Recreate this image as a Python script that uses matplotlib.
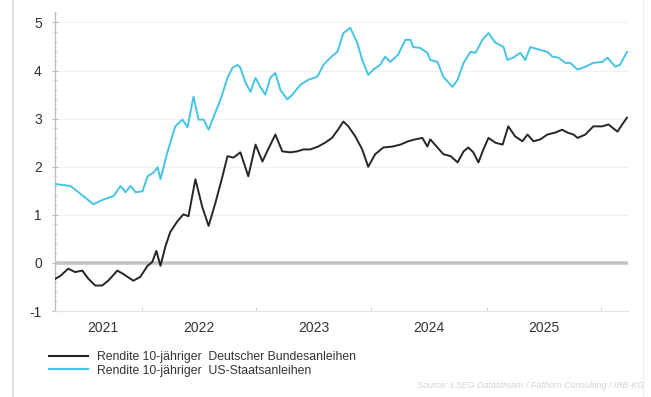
import matplotlib
matplotlib.use("Agg")
import matplotlib.pyplot as plt
import matplotlib.dates as mdates
from matplotlib.lines import Line2D
import numpy as np
import pandas as pd

# ---------------- data ----------------
us_dates = ["2021-04-02", "2021-05-20", "2021-06-30", "2021-08-01", "2021-09-02", "2021-10-04",
            "2021-10-26", "2021-11-11", "2021-11-27", "2021-12-13", "2022-01-04", "2022-01-20",
            "2022-02-08", "2022-02-21", "2022-03-02", "2022-03-24", "2022-04-18", "2022-05-11",
            "2022-05-27", "2022-06-15", "2022-07-01", "2022-07-17", "2022-08-02", "2022-08-18",
            "2022-09-09", "2022-10-01", "2022-10-17", "2022-11-02", "2022-11-11", "2022-11-27",
            "2022-12-13", "2022-12-29", "2023-01-13", "2023-01-29", "2023-02-14", "2023-03-02",
            "2023-03-18", "2023-04-09", "2023-04-25", "2023-05-20", "2023-06-15", "2023-07-13",
            "2023-08-02", "2023-08-24", "2023-09-15", "2023-10-04", "2023-10-26", "2023-11-17",
            "2023-12-03", "2023-12-22", "2024-01-07", "2024-01-29", "2024-02-14", "2024-03-01",
            "2024-03-26", "2024-04-18", "2024-05-04", "2024-05-13", "2024-06-04", "2024-06-27",
            "2024-07-06", "2024-07-29", "2024-08-17", "2024-09-15", "2024-10-01", "2024-10-20",
            "2024-11-11", "2024-11-27", "2024-12-19", "2025-01-07", "2025-01-29", "2025-02-24",
            "2025-03-08", "2025-03-27", "2025-04-18", "2025-05-04", "2025-05-20", "2025-06-21",
            "2025-07-13", "2025-07-29", "2025-08-17", "2025-09-08", "2025-09-24", "2025-10-17",
            "2025-11-11", "2025-12-06", "2026-01-04", "2026-01-20", "2026-02-14", "2026-03-01",
            "2026-03-23"]
us_yield = [1.64, 1.60, 1.39, 1.22, 1.32, 1.39,
            1.60, 1.47, 1.60, 1.47, 1.49, 1.80,
            1.88, 1.99, 1.74, 2.30, 2.84, 2.98,
            2.82, 3.46, 2.98, 2.98, 2.77, 3.04,
            3.40, 3.85, 4.06, 4.12, 4.06, 3.75,
            3.56, 3.85, 3.66, 3.50, 3.85, 3.95,
            3.60, 3.40, 3.50, 3.70, 3.81, 3.87,
            4.12, 4.27, 4.39, 4.78, 4.89, 4.58,
            4.22, 3.91, 4.02, 4.12, 4.29, 4.18,
            4.33, 4.64, 4.64, 4.49, 4.47, 4.37,
            4.22, 4.18, 3.87, 3.66, 3.81, 4.16,
            4.39, 4.37, 4.64, 4.78, 4.58, 4.49,
            4.22, 4.27, 4.37, 4.22, 4.49, 4.43,
            4.39, 4.29, 4.27, 4.16, 4.16, 4.02,
            4.08, 4.16, 4.18, 4.27, 4.08, 4.12,
            4.39]

de_dates = ["2021-04-02", "2021-04-18", "2021-05-13", "2021-06-04", "2021-06-27", "2021-07-16",
            "2021-08-07", "2021-08-29", "2021-09-17", "2021-10-16", "2021-11-04", "2021-12-06",
            "2021-12-28", "2022-01-20", "2022-02-04", "2022-02-17", "2022-03-02", "2022-03-18",
            "2022-04-02", "2022-04-25", "2022-05-14", "2022-05-30", "2022-06-21", "2022-07-13",
            "2022-08-02", "2022-08-24", "2022-09-15", "2022-10-01", "2022-10-20", "2022-11-11",
            "2022-12-06", "2022-12-29", "2023-01-20", "2023-02-04", "2023-03-02", "2023-03-24",
            "2023-04-18", "2023-05-11", "2023-05-30", "2023-06-21", "2023-07-16", "2023-08-07",
            "2023-08-29", "2023-09-17", "2023-10-04", "2023-10-20", "2023-11-11", "2023-12-03",
            "2023-12-22", "2024-01-13", "2024-02-08", "2024-03-08", "2024-04-02", "2024-04-27",
            "2024-05-20", "2024-06-11", "2024-06-27", "2024-07-06", "2024-07-29", "2024-08-17",
            "2024-09-09", "2024-10-01", "2024-10-20", "2024-11-04", "2024-11-20", "2024-12-06",
            "2024-12-22", "2025-01-07", "2025-01-29", "2025-02-21", "2025-03-11", "2025-04-02",
            "2025-04-25", "2025-05-11", "2025-05-30", "2025-06-21", "2025-07-13", "2025-08-07",
            "2025-08-29", "2025-09-15", "2025-10-04", "2025-10-17", "2025-11-11", "2025-12-06",
            "2026-01-04", "2026-01-23", "2026-02-21", "2026-03-08", "2026-03-23"]
de_yield = [-0.33, -0.27, -0.12, -0.19, -0.16, -0.33,
            -0.47, -0.47, -0.37, -0.16, -0.23, -0.37,
            -0.29, -0.06, 0.02, 0.25, -0.06, 0.35,
            0.64, 0.87, 1.01, 0.97, 1.74, 1.16,
            0.77, 1.26, 1.80, 2.22, 2.19, 2.30,
            1.80, 2.46, 2.11, 2.32, 2.67, 2.32,
            2.30, 2.32, 2.36, 2.36, 2.42, 2.50,
            2.60, 2.77, 2.94, 2.84, 2.63, 2.36,
            2.00, 2.26, 2.40, 2.42, 2.46, 2.53,
            2.57, 2.60, 2.42, 2.57, 2.40, 2.26,
            2.22, 2.09, 2.32, 2.40, 2.30, 2.09,
            2.36, 2.60, 2.50, 2.46, 2.84, 2.63,
            2.53, 2.67, 2.53, 2.57, 2.67, 2.71,
            2.77, 2.71, 2.67, 2.60, 2.67, 2.84,
            2.84, 2.88, 2.73, 2.88, 3.02]

series_labels = ["Rendite 10-jähriger  Deutscher Bundesanleihen",
                 "Rendite 10-jähriger  US-Staatsanleihen"]
year_labels = ["2021", "2022", "2023", "2024", "2025"]
year_label_dates = ["2021-09-01", "2022-07-02", "2023-07-02", "2024-07-02", "2025-07-02"]
y_ticks = [-1, 0, 1, 2, 3, 4, 5]
source_text = "Source: LSEG Datastream / Fathom Consulting / IBB-KG"

# ---------------- figure ----------------
plt.rcParams['font.family'] = ['Liberation Sans', 'DejaVu Sans']

fig = plt.figure(figsize=(6.51, 3.97), dpi=100)
fig.patch.set_facecolor("white")
ax = fig.add_axes([0.0845, 0.2166, 0.8805, 0.7534])

col_de = "#262626"
col_us = "#45c5e4"

ax.plot(pd.to_datetime(de_dates), de_yield, color=col_de, lw=1.4, zorder=4)
ax.plot(pd.to_datetime(us_dates), us_yield, color=col_us, lw=1.4, zorder=4)

ax.set_xlim(pd.Timestamp("2021-04-01"), pd.Timestamp("2026-03-27"))
ax.set_ylim(-1, 5.22)

# grid
for v in y_ticks:
    if v == 0:
        ax.axhline(0, color="#c4c4c4", lw=2.6, zorder=2)
    elif v != -1:
        ax.axhline(v, color="#f1f1f1", lw=0.8, zorder=1)

for s in ["top", "right"]:
    ax.spines[s].set_visible(False)
ax.spines["left"].set_color("#bdbdbd")
ax.spines["left"].set_linewidth(0.9)
ax.spines["bottom"].set_color("#e3e3e3")
ax.spines["bottom"].set_linewidth(0.9)

ax.set_yticks(y_ticks)
ax.set_yticklabels([str(v) for v in y_ticks])
ax.yaxis.set_minor_locator(matplotlib.ticker.MultipleLocator(0.2))
ax.tick_params(axis="y", which="major", direction="inout", length=5, width=0.8,
               color="#bdbdbd", labelsize=10, labelcolor="#333333", pad=7)
ax.tick_params(axis="y", which="minor", direction="inout", length=3, width=0.6, color="#cfcfcf")

# x: ticks at year starts, labels centered
ax.xaxis.set_major_locator(mdates.YearLocator())
ax.xaxis.set_major_formatter(matplotlib.ticker.NullFormatter())
ax.set_xticks(pd.to_datetime(year_label_dates), minor=True)
ax.set_xticklabels(year_labels, minor=True)
ax.tick_params(axis="x", which="major", direction="in", length=3, width=0.7, color="#d0d0d0")
ax.tick_params(axis="x", which="minor", length=0, labelsize=10, labelcolor="#333333", pad=7)

# legend
handles = [Line2D([0], [0], color=col_de, lw=1.5), Line2D([0], [0], color=col_us, lw=1.5)]
leg = fig.legend(handles, series_labels, loc="upper left", bbox_to_anchor=(0.068, 0.128),
                 frameon=False, fontsize=8.8, handlelength=3.2, handletextpad=0.7,
                 labelspacing=0.12, borderaxespad=0)
for t in leg.get_texts():
    t.set_color("#333333")

fig.text(0.99, 0.018, source_text, ha="right", va="bottom", fontsize=6.5,
         color="#d4d4d4", style="italic")

# frame lines at the figure sides
fig.add_artist(Line2D([0.02, 0.02], [0.0, 1.0], transform=fig.transFigure, color="#dcdcdc", lw=1.2))
fig.add_artist(Line2D([0.988, 0.988], [0.0, 1.0], transform=fig.transFigure, color="#f0f0f0", lw=1.0))

fig.savefig("out.png", dpi=100, facecolor="white")
